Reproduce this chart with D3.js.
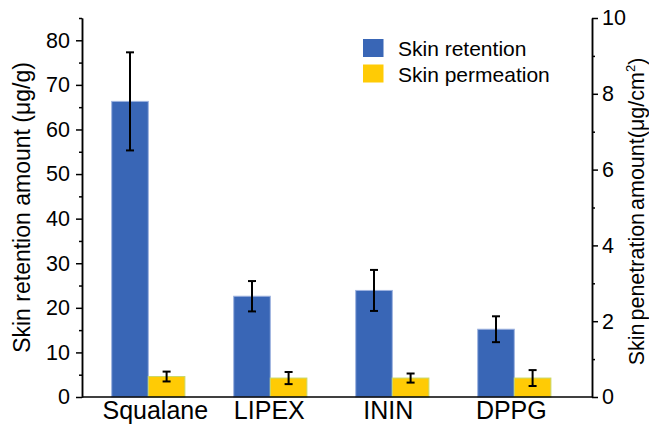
<!DOCTYPE html>
<html>
<head>
<meta charset="utf-8">
<script src="https://cdn.jsdelivr.net/npm/d3@7"></script>
<style>
html,body{margin:0;padding:0;background:#fff;}
svg{display:block;font-family:"Liberation Sans",Arial,sans-serif;}
</style>
</head>
<body>
<svg id="chart" width="649" height="425"></svg>
<script>
const categories = ["Squalane", "LIPEX", "ININ", "DPPG"];
const retention = [66.3, 22.6, 23.9, 15.2];
const retentionErr = [11.0, 3.4, 4.6, 2.9];
const permeation = [0.54, 0.50, 0.50, 0.50];
const permeationErr = [0.13, 0.16, 0.12, 0.21];
const leftTicks = [0, 10, 20, 30, 40, 50, 60, 70, 80];
const leftMinor = [5, 15, 25, 35, 45, 55, 65, 75, 85];
const rightTicks = [0, 2, 4, 6, 8, 10];
const rightMinor = [1, 3, 5, 7, 9];
const seriesNames = ["Skin retention", "Skin permeation"];
const colors = ["#3966b6", "#ffcb05"];
const edgeColors = ["#9db2df", "#c9d76a"];

const svg = d3.select("#chart");
const xL = 82, xR = 592, yT = 18, yB = 397;
const labelNudge = [7, -1, -4, -3];

const yLeft = d3.scaleLinear().domain([0, 85]).range([yB, yT]);
const yRight = d3.scaleLinear().domain([0, 10]).range([yB, yT]);
const x0 = d3.scaleBand().domain(categories).range([87.3, 575.3]).paddingInner(0.4).paddingOuter(0.2);
const x1 = d3.scaleBand().domain([0, 1]).range([0, x0.bandwidth()]);

// bars
const g = svg.append("g");
categories.forEach((c, i) => {
  const bx = x0(c) + x1(0), bw = x1.bandwidth();
  g.append("rect").attr("x", bx).attr("y", yLeft(retention[i]))
    .attr("width", bw).attr("height", yLeft(0) - yLeft(retention[i]))
    .attr("fill", colors[0]).attr("stroke", edgeColors[0]).attr("stroke-width", 1);
  const px = x0(c) + x1(1);
  g.append("rect").attr("x", px).attr("y", yRight(permeation[i]))
    .attr("width", bw).attr("height", yRight(0) - yRight(permeation[i]))
    .attr("fill", colors[1]).attr("stroke", edgeColors[1]).attr("stroke-width", 1);
});

// error bars
function errBar(cx, yTop, yBot) {
  const cap = 4;
  g.append("line").attr("x1", cx).attr("x2", cx).attr("y1", yTop).attr("y2", yBot)
    .attr("stroke", "#000").attr("stroke-width", 2);
  [yTop, yBot].forEach(yy => g.append("line").attr("x1", cx - cap).attr("x2", cx + cap)
    .attr("y1", yy).attr("y2", yy).attr("stroke", "#000").attr("stroke-width", 2));
}
categories.forEach((c, i) => {
  const bw = x1.bandwidth();
  errBar(x0(c) + x1(0) + bw / 2, yLeft(retention[i] + retentionErr[i]), yLeft(retention[i] - retentionErr[i]));
  errBar(x0(c) + x1(1) + bw / 2, yRight(permeation[i] + permeationErr[i]), yRight(permeation[i] - permeationErr[i]));
});

// axes
const axisColor = "#000";
const leftAxis = svg.append("g").attr("transform", `translate(${xL},0)`)
  .call(d3.axisLeft(yLeft).tickValues(leftTicks).tickSize(6).tickPadding(6).tickSizeOuter(0));
const leftMinorAxis = svg.append("g").attr("transform", `translate(${xL},0)`)
  .call(d3.axisLeft(yLeft).tickValues(leftMinor).tickSize(3).tickFormat("").tickSizeOuter(0));
const rightAxis = svg.append("g").attr("transform", `translate(${xR},0)`)
  .call(d3.axisRight(yRight).tickValues(rightTicks).tickSize(6).tickPadding(4).tickSizeOuter(0));
const rightMinorAxis = svg.append("g").attr("transform", `translate(${xR},0)`)
  .call(d3.axisRight(yRight).tickValues(rightMinor).tickSize(3).tickFormat("").tickSizeOuter(0));
[leftAxis, leftMinorAxis, rightAxis, rightMinorAxis].forEach(a => {
  a.select(".domain").attr("stroke", axisColor).attr("stroke-width", 1.5);
  a.selectAll(".tick line").attr("stroke", axisColor).attr("stroke-width", 1.5);
  a.selectAll(".tick text").attr("fill", "#000").style("font-size", "21.5px")
    .style("font-family", '"Liberation Sans",Arial,sans-serif');
});
const bottomAxis = svg.append("g").attr("transform", `translate(0,${yB})`)
  .call(d3.axisBottom(x0).tickSize(0).tickPadding(4).tickSizeOuter(0));
bottomAxis.select(".domain").remove();
svg.append("line").attr("x1", xL).attr("x2", xR).attr("y1", yB).attr("y2", yB)
  .attr("stroke", axisColor).attr("stroke-width", 1.5);
bottomAxis.selectAll(".tick text").attr("fill", "#000").style("font-size", "25px")
  .style("font-family", '"Liberation Sans",Arial,sans-serif')
  .attr("dx", (d, i) => labelNudge[i]);

// axis titles
svg.append("text").attr("transform", `translate(30,${(yT + yB) / 2}) rotate(-90)`)
  .attr("text-anchor", "middle").style("font-size", "23px").attr("fill", "#000")
  .text("Skin retention amount (μg/g)");
const rt = svg.append("text").attr("transform", `translate(644,${(yT + yB) / 2 + 4}) rotate(-90)`)
  .attr("text-anchor", "middle").style("font-size", "21.5px").attr("fill", "#000")
  .style("word-spacing", "-3px");
rt.append("tspan").text("Skin penetration amount(μg/cm");
rt.append("tspan").attr("dy", -9).style("font-size", "13px").text("2");
rt.append("tspan").attr("dy", 9).text(")");

// legend
const lg = svg.append("g");
seriesNames.forEach((n, i) => {
  lg.append("rect").attr("x", 363).attr("y", 39 + i * 25.5).attr("width", 20.5).attr("height", 18)
    .attr("fill", colors[i]);
  lg.append("text").attr("x", 398).attr("y", 56 + i * 25.5).style("font-size", "21px")
    .attr("fill", "#000").text(n);
});
</script>
</body>
</html>
